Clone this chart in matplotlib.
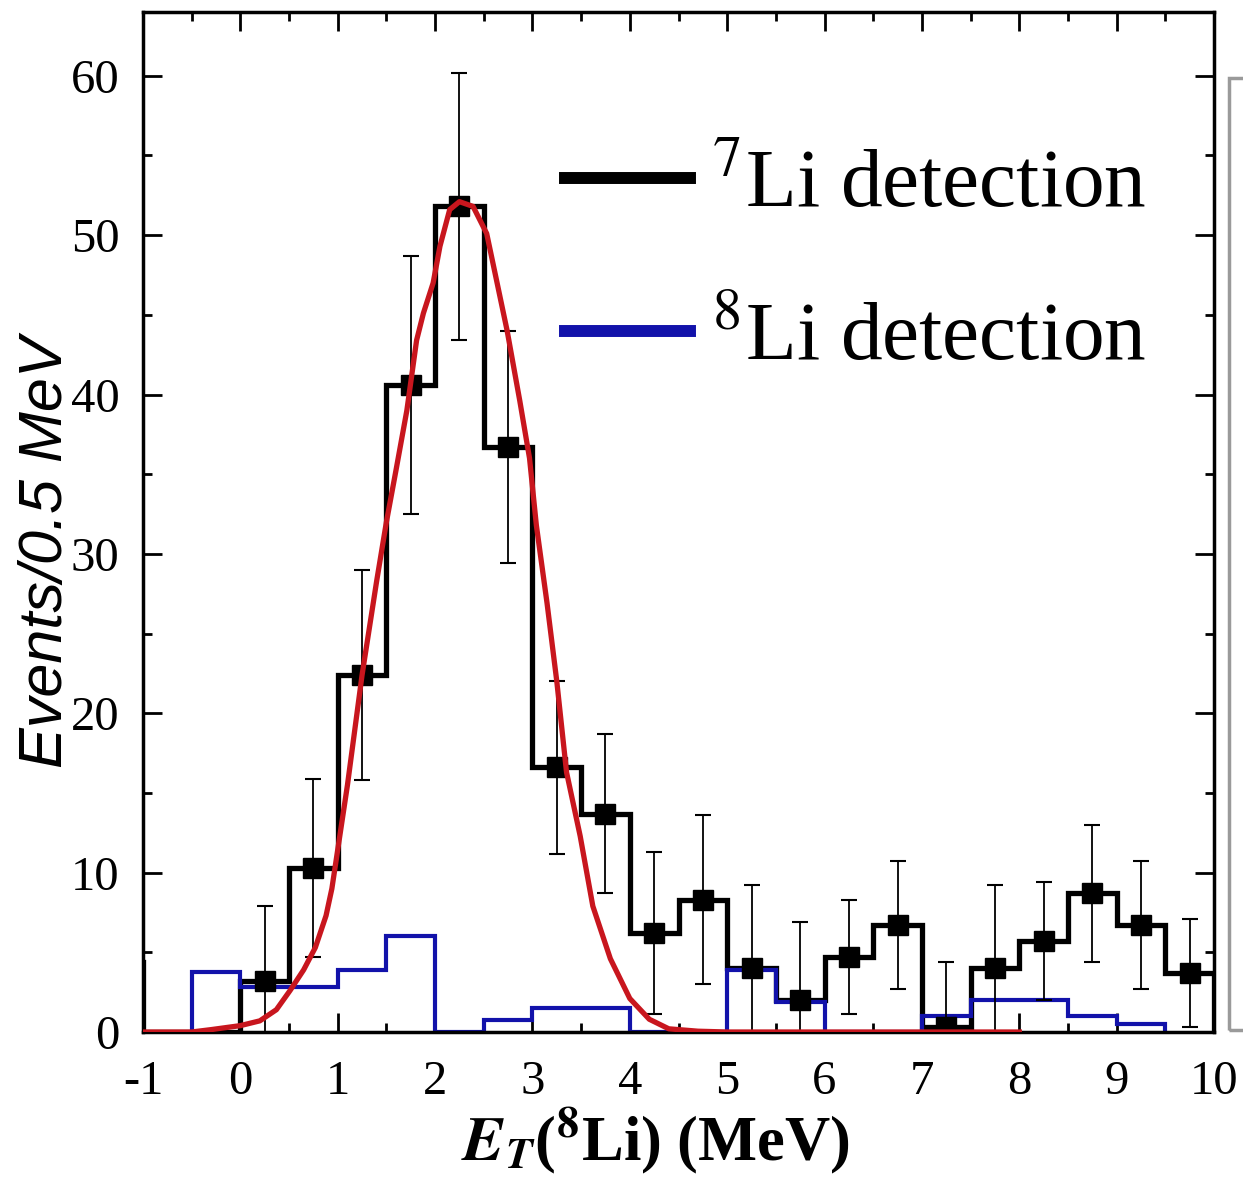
import numpy as np
import matplotlib
matplotlib.use('Agg')
import matplotlib.pyplot as plt
from matplotlib.lines import Line2D
from matplotlib.patches import Rectangle
from matplotlib.font_manager import FontProperties

plt.rcParams['mathtext.fontset'] = 'stix'
plt.rcParams['axes.unicode_minus'] = False

# 7Li detection, 0.5 MeV bins (first bin only shows as an edge at x=-1)
li7_edges = np.arange(-1.5, 10.01, 0.5)
li7_counts = [4.4, 0, 0,
              3.2, 10.3, 22.4, 40.6, 51.8, 36.7, 16.6, 13.7, 6.2, 8.3,
              4.0, 2.0, 4.7, 6.7, 0.3, 4.0, 5.7, 8.7, 6.7, 3.7]

# data points with error bars
pt_x = [0.25, 0.75, 1.25, 1.75, 2.25, 2.75, 3.25, 3.75, 4.25, 4.75,
        5.25, 5.75, 6.25, 6.75, 7.25, 7.75, 8.25, 8.75, 9.25, 9.75]
pt_y = [3.2, 10.3, 22.4, 40.6, 51.8, 36.7, 16.6, 13.7, 6.2, 8.3,
        4.0, 2.0, 4.7, 6.7, 0.3, 4.0, 5.7, 8.7, 6.7, 3.7]
pt_err = [4.7, 5.6, 6.6, 8.1, 8.4, 7.3, 5.4, 5.0, 5.1, 5.3,
          5.2, 4.9, 3.6, 4.0, 4.1, 5.2, 3.7, 4.3, 4.0, 3.4]

# 8Li detection
li8_edges = np.arange(-0.5, 9.51, 0.5)
li8_counts = [3.75, 2.8, 2.8, 3.9, 6.0, 0, 0.75, 1.5, 1.5, 0,
              0, 3.9, 1.9, 0, 0, 1.0, 2.0, 2.0, 1.0, 0.5]

# fitted curve
fit_x = [-1.0, -0.5, -0.3, 0.0, 0.2, 0.37, 0.51, 0.65, 0.77, 0.88, 0.94,
         1.1, 1.25, 1.4, 1.5, 1.6, 1.71, 1.81, 1.88, 1.98, 2.05, 2.15,
         2.25, 2.39, 2.53, 2.63, 2.74, 2.87, 2.97, 3.04, 3.15, 3.25, 3.35,
         3.49, 3.62, 3.8, 4.0, 4.2, 4.4, 4.7, 5.0, 8.0]
fit_y = [0, 0, 0.15, 0.4, 0.7, 1.4, 2.6, 3.9, 5.3, 7.3, 9.0,
         15.5, 22.4, 28.3, 32.0, 35.3, 39.0, 43.4, 45.1, 47.0, 49.3, 51.6,
         52.1, 51.8, 50.1, 47.2, 44.0, 39.6, 36.0, 31.8, 26.9, 22.0, 16.3,
         12.3, 7.9, 4.6, 2.1, 0.8, 0.2, 0.05, 0, 0]

blue = '#1212aa'
red = '#c8161e'
serif = 'Liberation Serif'

fig = plt.figure(figsize=(12.43, 11.82), dpi=100)
ax = fig.add_axes([143 / 1243, 150 / 1182, 1071 / 1243, 1020 / 1182])

# histograms sit under the spines so their zero runs hide behind the axis
ax.stairs(li7_counts, li7_edges, baseline=0, color='black', lw=3.8, zorder=2.1)
ax.stairs(li8_counts, li8_edges, baseline=0, color=blue, lw=3.0, zorder=2.2)
ax.errorbar(pt_x, pt_y, yerr=pt_err, fmt='s', color='black', ms=15,
            elinewidth=1.3, capsize=5.5, capthick=1.5, zorder=4)
ax.plot(fit_x, fit_y, color=red, lw=3.8, zorder=5)

ax.set_xlim(-1, 10)
ax.set_ylim(0, 64)
ax.set_xticks(np.arange(-1, 11, 1))
ax.set_xticks(np.arange(-1, 10.01, 0.5), minor=True)
ax.set_yticks(np.arange(0, 61, 10))
ax.set_yticks(np.arange(0, 61, 5), minor=True)
ax.tick_params(which='both', direction='in', top=True, right=True, width=2)
ax.tick_params(which='major', length=13.5)
ax.tick_params(which='minor', length=6.5)
ax.tick_params(axis='x', pad=20)
ax.tick_params(axis='y', pad=17)
for lab in ax.get_xticklabels() + ax.get_yticklabels():
    lab.set_fontfamily(serif)
    lab.set_fontsize(35)
for sp in ax.spines.values():
    sp.set_linewidth(2.5)

ax.set_ylabel('Events/0.5 MeV', fontfamily='Liberation Sans', fontstyle='italic',
              fontsize=44)
ax.yaxis.set_label_coords(-0.0635, 0.47)
ax.set_xlabel(r'$\mathbfit{E}_{\mathbfit{T}}$($^{\mathbf{8}}$Li) (MeV)',
              fontfamily=serif, fontweight='bold', fontsize=45)
ax.xaxis.set_label_coords(0.478, -0.072)

handles = [Line2D([], [], color='black', lw=8.6),
           Line2D([], [], color=blue, lw=8.6)]
ax.legend(handles, [r'$^{7}$Li detection', r'$^{8}$Li detection'],
          loc='upper left', bbox_to_anchor=(0.394, 0.866), frameon=False,
          prop=FontProperties(family=serif, size=60), handlelength=1.5,
          handletextpad=0.25, labelspacing=0.92, borderpad=0, borderaxespad=0)

# edge of the neighbouring panel
fig.add_artist(Rectangle((1229 / 1243, 152 / 1182), 0.1, 952 / 1182,
                         transform=fig.transFigure, fill=False,
                         edgecolor='#9a9a9a', lw=2.5))

fig.savefig('out.png', dpi=100)
